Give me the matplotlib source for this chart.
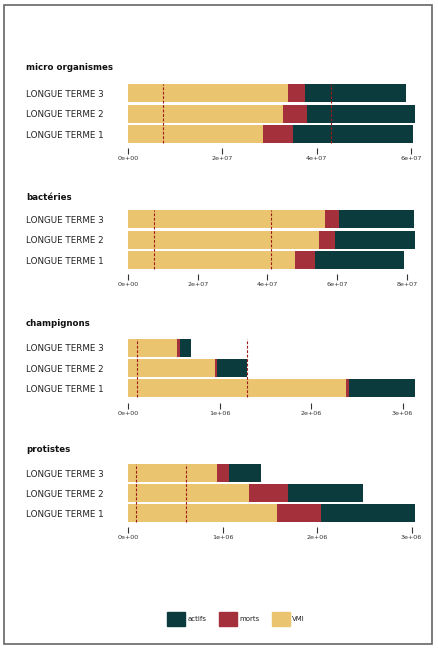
import matplotlib
matplotlib.use('Agg')
import matplotlib.pyplot as plt
import matplotlib.patches as mpatches
from matplotlib.ticker import MultipleLocator, FuncFormatter

W, H = 439, 654

categories = ['LONGUE TERME 1', 'LONGUE TERME 2', 'LONGUE TERME 3']
titles = ['micro organismes', 'bactéries', 'champignons', 'protistes']

# segment values per panel (LT1, LT2, LT3)
vmi = [[2.87e7, 3.28e7, 3.39e7],
       [4.79e7, 5.47e7, 5.66e7],
       [2.38e6, 0.946e6, 0.533e6],
       [1.58e6, 1.28e6, 0.946e6]]
morts = [[0.62e7, 0.51e7, 0.37e7],
         [0.57e7, 0.46e7, 0.39e7],
         [0.03e6, 0.021e6, 0.032e6],
         [0.46e6, 0.415e6, 0.127e6]]
actifs = [[2.54e7, 2.30e7, 2.14e7],
          [2.55e7, 2.32e7, 2.15e7],
          [0.73e6, 0.33e6, 0.12e6],
          [1.00e6, 0.795e6, 0.334e6]]
seuils = [[0.75e7, 4.30e7],
          [0.755e7, 4.11e7],
          [0.094e6, 1.297e6],
          [0.088e6, 0.61e6]]
tick_steps = [2e7, 2e7, 1e6, 1e6]

c_vmi = '#EBC46F'
c_morts = '#A3303A'
c_actifs = '#0C3B3E'
c_seuil = '#9B1B1B'

# layout in pixels (top, bottom of axes) and title y
ax_rows = [(83, 144.3), (209, 270.3), (337.3, 398.7), (463, 523.3)]
title_y = [68, 197, 323, 450]
left_px, right_px = 128, 416

fig = plt.figure(figsize=(W / 100, H / 100), dpi=100)

for i in range(4):
    top, bot = ax_rows[i]
    ax = fig.add_axes([left_px / W, 1 - bot / H, (right_px - left_px) / W, (bot - top) / H])
    y = range(3)
    ax.barh(y, vmi[i], height=0.88, color=c_vmi)
    left2 = [a for a in vmi[i]]
    ax.barh(y, morts[i], left=left2, height=0.88, color=c_morts)
    left3 = [a + b for a, b in zip(vmi[i], morts[i])]
    ax.barh(y, actifs[i], left=left3, height=0.88, color=c_actifs)
    ax.vlines(seuils[i], -0.44, 2.44, colors=c_seuil, linestyles=(0, (2.5, 1.5)), linewidth=0.8)

    totals = [a + b + c for a, b, c in zip(vmi[i], morts[i], actifs[i])]
    ax.set_xlim(0, max(totals) * 1.002)
    ax.set_ylim(-0.5, 2.5)

    for s in ax.spines.values():
        s.set_visible(False)
    ax.spines['bottom'].set_position(('outward', 3))
    ax.xaxis.set_major_locator(MultipleLocator(tick_steps[i]))
    ax.xaxis.set_major_formatter(FuncFormatter(lambda v, p: '%.0e' % v))
    ax.tick_params(axis='x', length=4.5, width=0.8, color='#333333', labelsize=4.6,
                   labelcolor='#333333', pad=1)

    ax.set_yticks(list(y))
    ax.set_yticklabels(categories)
    ax.tick_params(axis='y', length=0, pad=(left_px - 26) * 0.72, labelsize=6.3, labelcolor='#222222')
    for lab in ax.get_yticklabels():
        lab.set_horizontalalignment('left')

    fig.text(26 / W, 1 - title_y[i] / H, titles[i], fontsize=6.2, fontweight='bold',
             color='#111111', va='center', ha='left')

handles = [mpatches.Patch(color=c_actifs, label='actifs'),
           mpatches.Patch(color=c_morts, label='morts'),
           mpatches.Patch(color=c_vmi, label='VMI')]
fig.legend(handles=handles, loc='center', bbox_to_anchor=(236 / W, 1 - 619 / H), ncol=3,
           frameon=False, fontsize=5, handlelength=2.6, handleheight=2.6,
           handletextpad=0.3, columnspacing=1.8, labelcolor='#222222')

frame = mpatches.Rectangle((4 / W, 1 - 644 / H), 428 / W, 639 / H, transform=fig.transFigure,
                           fill=False, edgecolor='#666666', linewidth=1.2)
fig.patches.append(frame)

fig.savefig('out.png', dpi=100)
